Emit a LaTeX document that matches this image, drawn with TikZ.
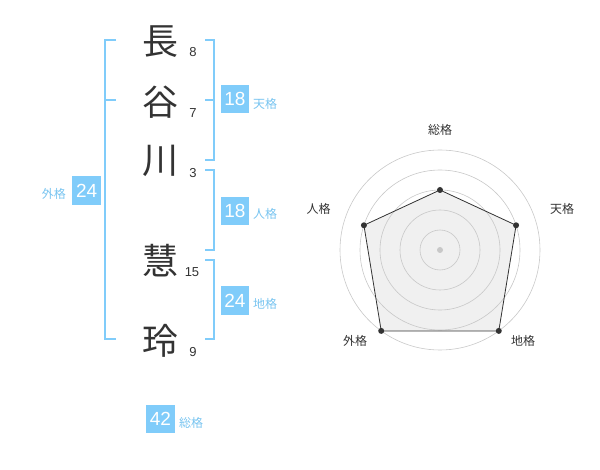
\documentclass[tikz,border=0pt]{standalone}
\usepackage{fontspec}
\setmainfont{Liberation Sans}
\newfontfamily\jp{Noto Sans CJK JP}
\definecolor{sky}{RGB}{128,204,250}
\definecolor{skytext}{RGB}{120,196,240}
\definecolor{ink}{RGB}{51,51,51}
\definecolor{ring}{RGB}{200,200,200}
\definecolor{fillg}{RGB}{240,240,240}
\tikzset{
  kanji/.style={font=\jp\fontsize{36}{36}\selectfont, text=ink, inner sep=0pt},
  strokes/.style={font=\fontsize{13}{13}\selectfont, text=ink, inner sep=0pt},
  numbox/.style={fill=sky, text=white, minimum width=28.6pt, minimum height=28.6pt, inner sep=0pt, font=\fontsize{19}{19}\selectfont},
  gname/.style={font=\jp\fontsize{12}{12}\selectfont, text=skytext, inner sep=0pt, anchor=west},
  brk/.style={draw=sky, line width=1.6pt},
  axlabel/.style={font=\jp\fontsize{12}{12}\selectfont, text=ink, inner sep=0pt},
  pt/.style={circle, fill=ink, inner sep=0pt, minimum size=6pt},
}
\begin{document}
\begin{tikzpicture}[x=1pt,y=-1pt]
\useasboundingbox (0,0) rectangle (600,470);
% characters
\node[kanji] (c1) at (160,42) {長};
\node[kanji] (c2) at (160,102) {谷};
\node[kanji] (c3) at (160,161) {川};
\node[kanji] (c4) at (160,261) {慧};
\node[kanji] (c5) at (160,341) {玲};
\node[strokes] (s1) at (193,52.5) {8};
\node[strokes] (s2) at (193,113.5) {7};
\node[strokes] (s3) at (193,173.5) {3};
\node[strokes] (s4) at (192,272.5) {15};
\node[strokes] (s5) at (193,352.5) {9};
% left bracket (gaikaku)
\coordinate (l1) at (116,40);
\coordinate (l2) at (105,40);
\coordinate (l3) at (105,339);
\coordinate (l4) at (116,339);
\coordinate (lm1) at (105,100);
\coordinate (lm2) at (116,100);
\draw[brk] (l1) -- (l2) -- (l3) -- (l4);
\draw[brk] (lm1) -- (lm2);
% right brackets
\coordinate (t1) at (205,40);
\coordinate (t2) at (214,40);
\coordinate (t3) at (214,160);
\coordinate (t4) at (205,160);
\coordinate (tm1) at (205,100);
\coordinate (tm2) at (214,100);
\draw[brk] (t1) -- (t2) -- (t3) -- (t4);
\draw[brk] (tm1) -- (tm2);
\coordinate (j1) at (205,170);
\coordinate (j2) at (214,170);
\coordinate (j3) at (214,250);
\coordinate (j4) at (205,250);
\draw[brk] (j1) -- (j2) -- (j3) -- (j4);
\coordinate (d1) at (205,260);
\coordinate (d2) at (214,260);
\coordinate (d3) at (214,339);
\coordinate (d4) at (205,339);
\draw[brk] (d1) -- (d2) -- (d3) -- (d4);
% boxes
\node[numbox] (b1) at (235,99) {18};
\node[gname] (n1) at (253,103.5) {天格};
\node[numbox] (b2) at (235,211) {18};
\node[gname] (n2) at (253,214) {人格};
\node[numbox] (b3) at (235,300.5) {24};
\node[gname] (n3) at (253,303.5) {地格};
\node[numbox] (b4) at (86.7,190.5) {24};
\node[gname, anchor=east] (n4) at (66,193.5) {外格};
\node[numbox] (b5) at (160.5,419) {42};
\node[gname] (n5) at (179,422.5) {総格};
% radar chart
\coordinate (o) at (440,250);
\path (o) ++(0,-60) coordinate (p1)
      (o) ++({80*cos(18)},{-80*sin(18)}) coordinate (p2)
      (o) ++({100*cos(54)},{100*sin(54)}) coordinate (p3)
      (o) ++({-100*cos(54)},{100*sin(54)}) coordinate (p4)
      (o) ++({-80*cos(18)},{-80*sin(18)}) coordinate (p5);
\fill[fillg] (p1) -- (p2) -- (p3) -- (p4) -- (p5) -- cycle;
\foreach \r in {20,40,60,80,100} \draw[ring, line width=0.6pt] (o) circle (\r pt);
\draw[ink, line width=0.8pt, line join=round] (p1) -- (p2) -- (p3) -- (p4) -- (p5) -- cycle;
\node[circle, fill=ring, inner sep=0pt, minimum size=6pt] (cen) at (o) {};
\foreach \i in {1,...,5} \node[pt] (q\i) at (p\i) {};
\node[axlabel] (a1) at (440,130) {総格};
\node[axlabel] (a2) at (562,208.5) {天格};
\node[axlabel] (a3) at (523,341) {地格};
\node[axlabel] (a4) at (355,341) {外格};
\node[axlabel] (a5) at (318.7,209) {人格};
\end{tikzpicture}
\end{document}
